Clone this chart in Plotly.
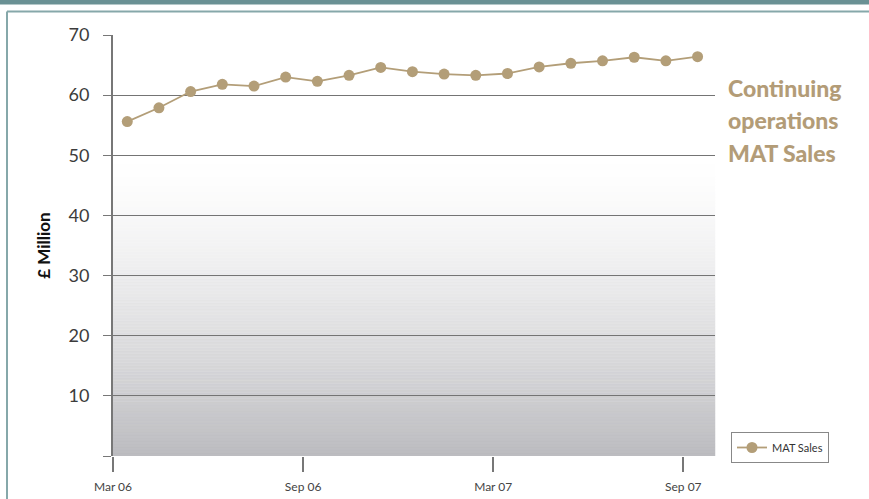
import plotly.graph_objects as go

# ---- data ----
months = ["Apr 06", "May 06", "Jun 06", "Jul 06", "Aug 06", "Sep 06", "Oct 06",
          "Nov 06", "Dec 06", "Jan 07", "Feb 07", "Mar 07", "Apr 07", "May 07",
          "Jun 07", "Jul 07", "Aug 07", "Sep 07", "Oct 07"]
mat_sales = [55.6, 57.9, 60.6, 61.8, 61.5, 63.0, 62.3, 63.3, 64.6, 63.9,
             63.5, 63.3, 63.6, 64.7, 65.3, 65.7, 66.3, 65.7, 66.4]
x_tick_labels = ["Mar 06", "Sep 06", "Mar 07", "Sep 07"]
x_tick_pos = [0, 6, 12, 18]
y_tick_vals = [0, 10, 20, 30, 40, 50, 60, 70]
y_tick_text = ["", "10", "20", "30", "40", "50", "60", "70"]
note_lines = ["Continuing", "operations", "MAT Sales"]

x_pos = [i + 0.45 for i in range(len(months))]

W, H = 869, 499
L, T = 113, 35
pw, ph = 602, 421
R, B = W - L - pw, H - T - ph

def px(xp):  # screen px -> paper x
    return (xp - L) / pw

def py(yp):  # screen px -> paper y
    return (T + ph - yp) / ph

fig = go.Figure()
fig.add_trace(go.Scatter(
    x=x_pos, y=mat_sales, mode="lines+markers", name="MAT Sales",
    text=months,
    line=dict(color="#b39e78", width=1.8),
    marker=dict(color="#b39e78", size=11),
))

shapes = []
# gradient background bands (y from 0 to 50)
n = 100
for k in range(n):
    y0 = 50 * k / n
    y1 = 50 * (k + 1) / n
    t = 1 - (y0 + y1) / 2 / 50  # 1 at bottom, 0 at 50
    c = int(round(255 - 67 * (t ** 1.4)))
    cb = int(round(255 - 63 * (t ** 1.4)))
    shapes.append(dict(type="rect", xref="paper", yref="y", x0=0, x1=1,
                       y0=y0, y1=y1, fillcolor=f"rgb({c},{c},{cb})",
                       line=dict(width=0.5, color=f"rgb({c},{c},{cb})"),
                       layer="below"))
# top teal band
shapes.append(dict(type="rect", xref="paper", yref="paper", x0=px(-10), x1=px(880),
                   y0=py(4.5), y1=py(-10), fillcolor="#6a9194",
                   line=dict(width=0), layer="below"))
# frame lines
shapes.append(dict(type="line", xref="paper", yref="paper", x0=px(7), x1=px(880),
                   y0=py(11.5), y1=py(11.5), line=dict(color="#86a8aa", width=2),
                   layer="below"))
shapes.append(dict(type="line", xref="paper", yref="paper", x0=px(7), x1=px(7),
                   y0=py(11.5), y1=py(510), line=dict(color="#86a8aa", width=2),
                   layer="below"))

annotations = []
for yc, line in zip([88, 120, 153], note_lines):
    annotations.append(dict(xref="paper", yref="paper", x=px(726), y=py(yc),
                            xanchor="left", yanchor="middle", align="left",
                            text=line, showarrow=False,
                            font=dict(family="Lato", size=23, weight=900,
                                      color="#b39c77")))

fig.update_layout(
    width=W, height=H,
    margin=dict(l=L, r=R, t=T, b=B, autoexpand=False),
    paper_bgcolor="white", plot_bgcolor="rgba(0,0,0,0)",
    shapes=shapes,
    showlegend=True,
    legend=dict(x=px(731), y=py(432), xanchor="left", yanchor="top",
                bordercolor="#888888", borderwidth=1, bgcolor="white",
                font=dict(family="Lato", size=11, color="#333333"),
                itemwidth=30),
    xaxis=dict(range=[0, 19], tickvals=x_tick_pos, ticktext=x_tick_labels,
               showgrid=False, zeroline=False, showline=False, automargin=False,
               ticks="outside", ticklen=15, tickwidth=2, tickcolor="#777777",
               ticklabelstandoff=5,
               tickfont=dict(family="Lato", size=12, color="#444444")),
    yaxis=dict(range=[0, 70], tickvals=y_tick_vals, ticktext=y_tick_text,
               showgrid=True, gridcolor="#747474", gridwidth=1,
               zeroline=False, showline=True, linecolor="#777777", linewidth=2,
               automargin=False,
               ticks="outside", ticklen=8, tickwidth=1, tickcolor="#777777",
               ticklabelstandoff=10,
               tickfont=dict(family="Lato", size=18, color="#3c3c3c"),
               title=dict(text="£ Million", standoff=14,
                          font=dict(family="Lato", size=17, weight="bold",
                                    color="#111111"))),
    annotations=annotations,
)

fig.write_html("out.html",
               config={"displayModeBar": False},
               post_script="document.body.style.margin='0px';"
                           "document.body.style.overflow='hidden';")
